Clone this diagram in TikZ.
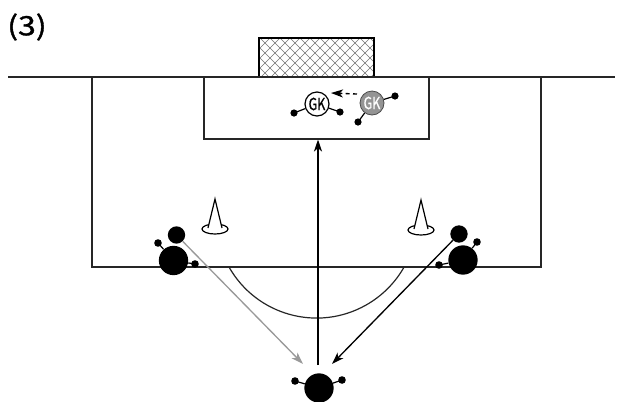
\documentclass[tikz,border=0pt]{standalone}
\usepackage{fontspec}
\setmainfont{Noto Sans CJK JP}
\newfontfamily\lblfont[FakeBold=1.2]{Noto Sans CJK JP}
\newfontfamily\gkfont[FakeBold=0.8]{Noto Sans CJK JP}
\usetikzlibrary{arrows.meta}
\begin{document}
\begin{tikzpicture}[x=0.75pt,y=-0.75pt,
  field/.style={line width=0.9pt,black!85},
  body/.style={circle,fill=black,inner sep=0pt,minimum size=22pt},
  ball/.style={circle,fill=black,inner sep=0pt,minimum size=13pt},
  hand/.style={fill=black},
  arm/.style={line width=0.9pt},
  gkw/.style={circle,draw=black,line width=0.9pt,fill=white,inner sep=0pt,minimum size=18pt,font=\gkfont\fontsize{12.5pt}{13pt}\selectfont},
  gkg/.style={circle,draw=black!70,line width=0.6pt,fill=black!42,text=white,inner sep=0pt,minimum size=18pt,font=\gkfont\fontsize{12.5pt}{13pt}\selectfont},
  arr/.style={line width=1pt,-{Stealth[length=9pt,width=6pt,inset=2.5pt]}},
  cone/.style={line width=0.9pt}
]
\useasboundingbox (0,0) rectangle (625,401);
% label
\node[anchor=west,inner sep=0pt,font=\lblfont\fontsize{20pt}{22pt}\selectfont] (lbl) at (7,27) {\scalebox{1.2}[1]{(3)}};
% goal net
\begin{scope}
  \clip (259,38) rectangle (374,77);
  \foreach \x in {180,190,...,460} {
    \draw[black!55,line width=0.45pt] (\x,38) -- (\x+39,77);
    \draw[black!55,line width=0.45pt] (\x,38) -- (\x-39,77);
  }
\end{scope}
\draw[line width=1.6pt] (259,77) -- (259,38) -- (374,38) -- (374,77);
% field lines
\draw[field] (8,77) -- (615,77);
\draw[field] (92,77) -- (92,267) -- (541,267) -- (541,77);
\draw[field] (204,77) -- (204,139) -- (429,139) -- (429,77);
\draw[field] (229,267) arc[start angle=150.5,end angle=29.5,radius=100.6];
% cones
\draw[cone] (215,229) ellipse[x radius=13,y radius=5];
\draw[cone,fill=white] (208,228) -- (215,199) -- (222,228);
\draw[cone] (421,230) ellipse[x radius=13,y radius=5];
\draw[cone,fill=white] (414,229) -- (421,200) -- (428,229);
% goalkeepers
\node[gkw] (gk1) at (317,104) {\scalebox{0.75}[1]{GK}};
\coordinate (gk1l) at (294,113);
\coordinate (gk1r) at (340,112);
\draw[arm] (gk1) -- (gk1l); \draw[arm] (gk1) -- (gk1r);
\fill[hand] (gk1l) circle[radius=3.6]; \fill[hand] (gk1r) circle[radius=3.6];
\node[gkg] (gk2) at (372,103) {\scalebox{0.75}[1]{GK}};
\coordinate (gk2a) at (395,96);
\coordinate (gk2b) at (358,122);
\draw[arm] (gk2) -- (gk2a); \draw[arm] (gk2) -- (gk2b);
\fill[hand] (gk2a) circle[radius=3.6]; \fill[hand] (gk2b) circle[radius=3.6];
\coordinate (dashs) at (357,94);
\coordinate (dashe) at (331,93);
\draw[arr,dashed,dash pattern=on 3pt off 2.5pt] (dashs) -- (dashe);
% left player
\node[body] (pl) at (173.5,260.5) {};
\node[ball] (bl) at (176.5,235) {};
\coordinate (pla) at (158,243);
\coordinate (plb) at (195,264);
\draw[arm] (pl) -- (pla); \draw[arm] (pl) -- (plb);
\fill[hand] (pla) circle[radius=3.8]; \fill[hand] (plb) circle[radius=3.8];
% right player
\node[body] (pr) at (463,260) {};
\node[ball] (br) at (459,234) {};
\coordinate (pra) at (439,265);
\coordinate (prb) at (477,242);
\draw[arm] (pr) -- (pra); \draw[arm] (pr) -- (prb);
\fill[hand] (pra) circle[radius=3.8]; \fill[hand] (prb) circle[radius=3.8];
% bottom player
\node[body] (pb) at (319,388) {};
\coordinate (pba) at (295,381);
\coordinate (pbb) at (342,380);
\draw[arm] (pb) -- (pba); \draw[arm] (pb) -- (pbb);
\fill[hand] (pba) circle[radius=3.8]; \fill[hand] (pbb) circle[radius=3.8];
% arrows
\coordinate (shots) at (318,365);
\coordinate (shote) at (318,139.5);
\draw[arr] (shots) -- (shote);
\coordinate (gend) at (303,364);
\draw[arr,black!40] (bl) -- (gend);
\coordinate (kend) at (332,364);
\draw[arr] (br) -- (kend);
\end{tikzpicture}
\end{document}
